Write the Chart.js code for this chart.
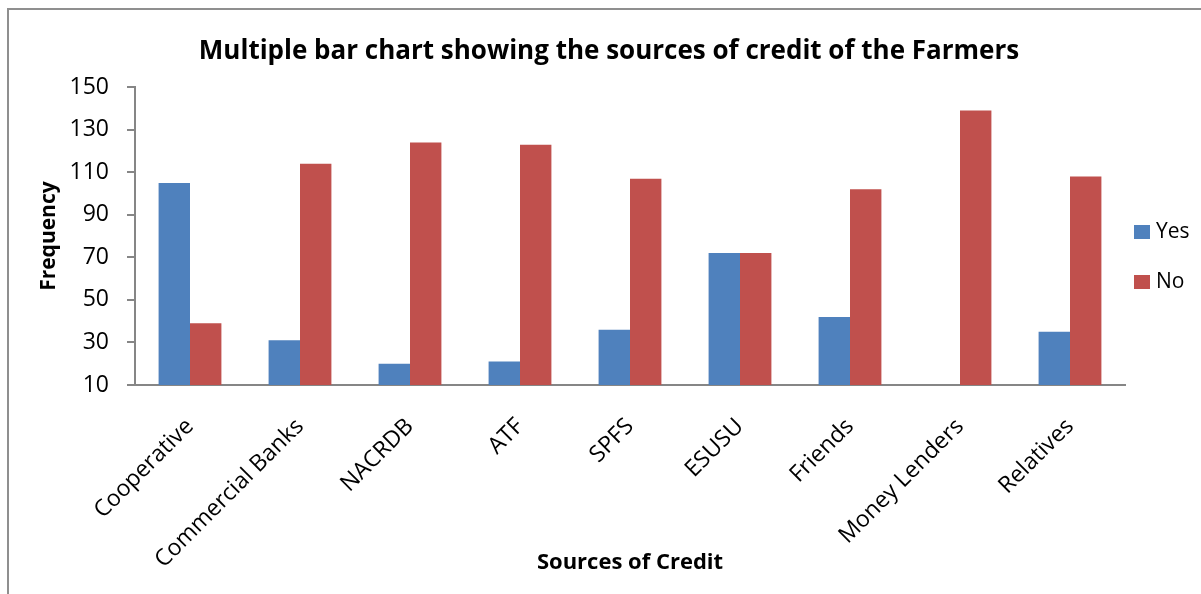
<!DOCTYPE html>
<html>
<head>
<meta charset="utf-8">
<script src="https://cdn.jsdelivr.net/npm/chart.js@4/dist/chart.umd.min.js"></script>
<style>
  html, body { margin: 0; padding: 0; background: #fff; overflow: hidden; }
  #frame {
    position: absolute; left: 7px; top: 8px; width: 1300px; height: 700px;
    border-left: 2px solid #8f8f8f; border-top: 2px solid #8f8f8f;
  }
  #wrap { position: absolute; left: 0; top: 0; width: 1201px; height: 594px; }
</style>
</head>
<body>
<div id="frame"></div>
<div id="wrap"><canvas id="credit-chart" width="1201" height="594"></canvas></div>
<script>
const sources = [
  'Cooperative',
  'Commercial Banks',
  'NACRDB',
  'ATF',
  'SPFS',
  'ESUSU',
  'Friends',
  'Money Lenders',
  'Relatives',
];
const yesValues = [105, 31, 20, 21, 36, 72, 42, 0, 35];
const noValues = [39, 114, 124, 123, 107, 72, 102, 139, 108];
const yTicks = [10, 30, 50, 70, 90, 110, 130, 150];

const FONT = "'Open Sans', 'Liberation Sans', sans-serif";
Chart.defaults.color = '#000';
Chart.defaults.font.family = FONT;

// legend drawn on the right, same layout as the excel one
const sideLegend = {
  id: 'sideLegend',
  afterDraw(chart) {
    const ctx = chart.ctx;
    ctx.save();
    ctx.font = '21px ' + FONT;
    ctx.textBaseline = 'middle';
    ctx.textAlign = 'left';
    chart.data.datasets.forEach((ds, i) => {
      const y = 232 + i * 50;
      ctx.fillStyle = ds.backgroundColor;
      ctx.fillRect(1134, y - 7, 16, 14);
      ctx.fillStyle = '#000';
      ctx.fillText(ds.label, 1156, y);
    });
    ctx.restore();
  },
};

const data = {
  labels: sources,
  datasets: [
    { label: 'Yes', data: yesValues, backgroundColor: '#4F81BD' },
    { label: 'No', data: noValues, backgroundColor: '#C0504D' },
  ],
};

const config = {
  type: 'bar',
  data: data,
  plugins: [sideLegend],
  options: {
    responsive: false,
    animation: false,
    layout: {
      padding: { left: 17, right: 0, top: 0, bottom: 0 },
    },
    datasets: {
      bar: {
        categoryPercentage: 0.571,
        barPercentage: 1,
      },
    },
    scales: {
      x: {
        grid: { display: false },
        border: { display: true, color: '#868686', width: 2 },
        ticks: {
          minRotation: 45,
          maxRotation: 45,
          padding: 20,
          font: { size: 23 },
        },
        title: {
          display: true,
          text: 'Sources of Credit',
          font: { size: 22, weight: 'bold' },
          padding: { top: 0, bottom: 18 },
        },
        afterFit(scale) {
          scale.height = 209;
        },
      },
      y: {
        min: 10,
        max: 150,
        afterBuildTicks(scale) {
          scale.ticks = yTicks.map((v) => ({ value: v }));
        },
        grid: {
          drawOnChartArea: false,
          drawTicks: true,
          tickLength: 8,
          color: '#868686',
          lineWidth: 2,
        },
        border: { display: true, color: '#868686', width: 2 },
        ticks: {
          padding: 18,
          font: { size: 23 },
        },
        title: {
          display: true,
          text: 'Frequency',
          font: { size: 21, weight: 'bold' },
          padding: { top: 19, bottom: 0 },
        },
        afterFit(scale) {
          scale.width = 118;
        },
      },
      // empty strip on the right where the legend sits
      side: {
        position: 'right',
        grid: { display: false },
        border: { display: false },
        ticks: { display: false },
        afterFit(scale) {
          scale.width = 76;
        },
      },
    },
    plugins: {
      legend: { display: false },
      tooltip: { enabled: false },
      title: {
        display: true,
        text: 'Multiple bar chart showing the sources of credit of the Farmers',
        font: { size: 26, weight: 'bold' },
        color: '#000',
        padding: { top: 36, bottom: 20 },
      },
    },
  },
};

new Chart(document.getElementById('credit-chart'), config);
</script>
</body>
</html>
